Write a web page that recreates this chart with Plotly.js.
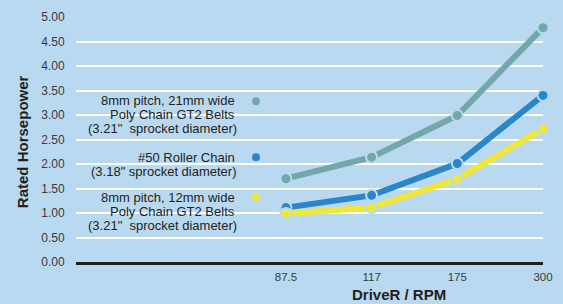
<!DOCTYPE html>
<html>
<head>
<meta charset="utf-8">
<script src="https://cdn.plot.ly/plotly-3.0.1.min.js"></script>
<style>html,body{margin:0;padding:0;background:#b9d9f1;}#chart{width:563px;height:304px;}</style>
</head>
<body>
<div id="chart"></div>
<script>
// ---- data ----
var rpmLabels = ['87.5', '117', '175', '300'];
var belt21 = [1.70, 2.14, 2.99, 4.78];
var chain50 = [1.11, 1.36, 2.01, 3.40];
var belt12 = [0.99, 1.11, 1.69, 2.72];
var seriesNames = [
  ['8mm pitch, 21mm wide', 'Poly Chain GT2 Belts', '(3.21"  sprocket diameter)'],
  ['#50 Roller Chain', '(3.18" sprocket diameter)'],
  ['8mm pitch, 12mm wide', 'Poly Chain GT2 Belts', '(3.21"  sprocket diameter)']
];
var yTicks = [0, 0.5, 1, 1.5, 2, 2.5, 3, 3.5, 4, 4.5, 5];

// ---- style ----
var W = 563, H = 304, ML = 76, MR = 20, MT = 16.7, MB = 42;
var BG = '#b9d9f1';
var colors = ['#72a8a9', '#2a86c8', '#efe83b'];
var FONT = 'Liberation Sans, Arial, sans-serif';
function px(x) { return (x - ML) / (W - ML - MR); }
function py(y) { return (H - MB - y) / (H - MT - MB); }

var seriesVals = [belt21, chain50, belt12];
var traces = seriesVals.map(function (v, i) {
  return {
    type: 'scatter', mode: 'lines+markers',
    x: rpmLabels, y: v, name: seriesNames[i].join(' '),
    line: {color: colors[i], width: 6},
    marker: {color: colors[i], size: 11, line: {color: BG, width: 2}},
    cliponaxis: false, hoverinfo: 'skip'
  };
});

var legendY = [[100.5, 114.5, 128.5], [157, 171], [197, 211, 225]];
var dotY = [101, 157, 197];
var annotations = [];
var shapes = [{
  type: 'rect', xref: 'paper', yref: 'paper', layer: 'between',
  x0: px(70), x1: px(283), y0: py(250), y1: py(78),
  fillcolor: BG, line: {width: 0}
}];
seriesNames.forEach(function (lines, i) {
  lines.forEach(function (t, j) {
    annotations.push({
      xref: 'paper', yref: 'paper', x: px(j === lines.length - 1 ? 239 : 236.5), y: py(legendY[i][j]),
      xanchor: 'right', yanchor: 'middle', showarrow: false,
      text: t, font: {family: FONT, size: 13, color: '#231f20'}
    });
  });
  shapes.push({
    type: 'circle', xref: 'paper', yref: 'paper', layer: 'above',
    x0: px(252), x1: px(260), y0: py(dotY[i] + 4), y1: py(dotY[i] - 4),
    fillcolor: colors[i], line: {width: 0}
  });
});
annotations.push({
  xref: 'paper', yref: 'paper', x: px(399), y: py(295), xanchor: 'center', yanchor: 'middle',
  showarrow: false, text: '<b>DriveR / RPM</b>', font: {family: FONT, size: 15, color: '#231f20'}
});
annotations.push({
  xref: 'paper', yref: 'paper', x: px(22), y: py(142), xanchor: 'center', yanchor: 'middle',
  textangle: -90, showarrow: false, text: '<b>Rated Horsepower</b>',
  font: {family: FONT, size: 15, color: '#231f20'}
});

var layout = {
  width: W, height: H,
  margin: {l: ML, r: MR, t: MT, b: MB, pad: 0},
  paper_bgcolor: BG, plot_bgcolor: BG,
  showlegend: false,
  xaxis: {
    type: 'category', range: [-2.45, 3], showgrid: false, zeroline: false,
    showline: true, linecolor: '#231f20', linewidth: 2.5,
    ticks: 'outside', ticklen: 3, tickcolor: 'rgba(0,0,0,0)',
    tickfont: {family: FONT, size: 11.5, color: '#3a3a3a'}, fixedrange: true
  },
  yaxis: {
    range: [0, 5], tickvals: yTicks, tickformat: '.2f',
    showgrid: true, gridcolor: '#ffffff', gridwidth: 2, zeroline: false,
    showline: false, ticks: 'outside', ticklen: 8, tickcolor: 'rgba(0,0,0,0)',
    tickfont: {family: FONT, size: 12, color: '#3a3a3a'}, fixedrange: true
  },
  annotations: annotations,
  shapes: shapes
};

Plotly.newPlot('chart', traces, layout, {displayModeBar: false, staticPlot: true});
</script>
</body>
</html>
